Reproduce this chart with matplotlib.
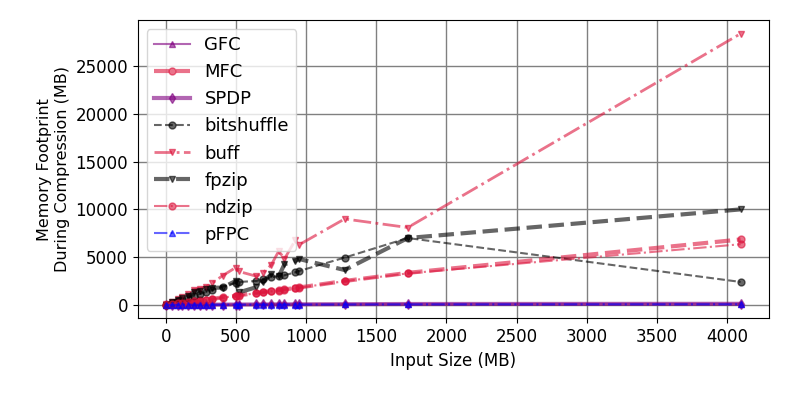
import matplotlib
matplotlib.use("Agg")
import matplotlib.pyplot as plt

# input sizes (MB)
sizes = [5, 43, 86, 115, 159, 202, 245, 289, 333, 405, 498, 521,
         646, 690, 753, 806, 846, 922, 951, 1275, 1725, 4096]

# memory footprint during compression (MB)
gfc = [10, 12, 15, 18, 20, 22, 25, 28, 30, 35, 40, 42,
       50, 52, 55, 58, 60, 65, 68, 80, 100, 120]
mfc = [10, 80, 170, 220, 300, 390, 460, 560, 630, 780, 950, 1000,
       1250, 1320, 1450, 1530, 1620, 1760, 1820, 2500, 3350, 6850]
spdp = [8, 10, 12, 14, 16, 18, 20, 22, 25, 28, 32, 34,
        40, 42, 45, 48, 50, 55, 58, 70, 90, 110]
bitshuffle = [30, 200, 400, 550, 750, 950, 1150, 1350, 1550, 1900, 2300, 2400,
              2500, 2700, 2900, 3000, 3100, 3400, 3550, 4950, 7000, 2400]
buff = [40, 300, 600, 800, 1150, 1600, 1700, 1900, 2300, 3050, 3900, 3500,
        3000, 3300, 4200, 5650, 4800, 6750, 6300, 9000, 8100, 28400]
fpzip = [30, 250, 500, 700, 900, 1300, 1500, 1700, 1800, 1800, 2500, 1300,
         1850, 2400, 3200, 3000, 4250, 4600, 4800, 3650, 7000, 10000]
ndzip = [10, 75, 160, 210, 290, 370, 450, 540, 610, 760, 920, 970,
         1220, 1300, 1420, 1500, 1590, 1720, 1790, 2480, 3300, 6350]
pfpc = [5, 6, 8, 9, 10, 12, 13, 15, 16, 18, 20, 21,
        25, 26, 28, 29, 30, 32, 33, 40, 50, 60]

xticks = [0, 500, 1000, 1500, 2000, 2500, 3000, 3500, 4000]

fig = plt.figure(figsize=(7.89, 3.95), dpi=100)
ax = fig.add_axes([0.1745, 0.194, 0.8005, 0.755])

ms = 5
ax.plot(sizes, gfc, color='purple', ls='-', lw=1.5, marker='^', ms=ms, alpha=0.6, label='GFC')
ax.plot(sizes, mfc, color='crimson', ls='--', lw=3, marker='o', ms=ms, alpha=0.6, label='MFC')
ax.plot(sizes, spdp, color='purple', ls='-', lw=3, marker='d', ms=ms, alpha=0.6, label='SPDP')
ax.plot(sizes, bitshuffle, color='black', ls='--', lw=1.5, marker='o', ms=ms, alpha=0.6, label='bitshuffle')
ax.plot(sizes, buff, color='crimson', ls='-.', lw=2, marker='v', ms=ms, alpha=0.6, label='buff')
ax.plot(sizes, fpzip, color='black', ls='--', lw=3, marker='v', ms=ms, alpha=0.6, label='fpzip')
ax.plot(sizes, ndzip, color='crimson', ls='-.', lw=1.5, marker='o', ms=ms, alpha=0.6, label='ndzip')
ax.plot(sizes, pfpc, color='blue', ls='-.', lw=1.5, marker='^', ms=ms, alpha=0.6, label='pFPC')

ax.set_xticks(xticks)
ax.grid(True, color='gray', lw=1)
ax.set_xlabel('Input Size (MB)', fontsize=12)
ax.set_ylabel('Memory Footprint\nDuring Compression (MB)', fontsize=11.5)
ax.tick_params(labelsize=12)
ax.legend(loc='upper left', fontsize=13)

fig.savefig('out.png', dpi=100)
